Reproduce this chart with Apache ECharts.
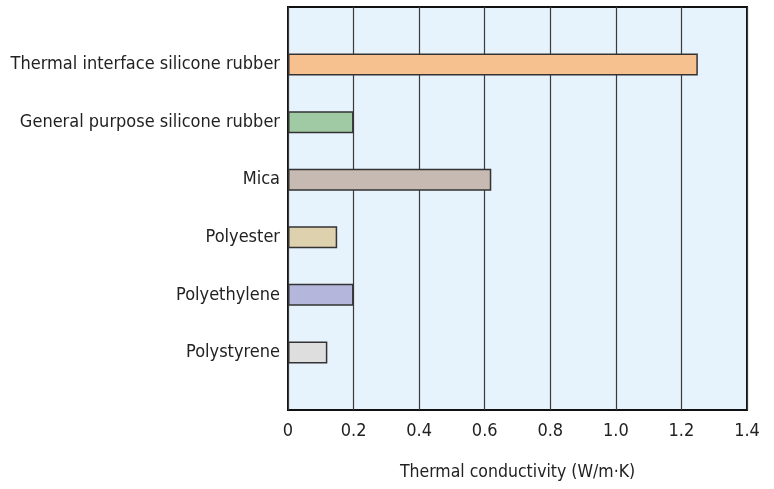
<!DOCTYPE html>
<html><head><meta charset="utf-8">
<script src="https://cdn.jsdelivr.net/npm/echarts@6/dist/echarts.min.js"></script>
<style>html,body{margin:0;padding:0;background:#fff}#c{width:774px;height:489px}</style>
</head><body><div id="c"></div>
<script>
const categories = ['Thermal interface silicone rubber','General purpose silicone rubber','Mica','Polyester','Polyethylene','Polystyrene'];
const values = [1.25, 0.2, 0.62, 0.15, 0.2, 0.12];
const colors = ['#F7C08F','#A0CAA4','#C7BAB3','#DDD1AE','#B4B6DB','#DEDEDE'];
const xTicks = [0, 0.2, 0.4, 0.6, 0.8, 1.0, 1.2, 1.4];
const xName = 'Thermal conductivity (W/m\u00B7K)';

const FONT = '"DejaVu Sans Condensed", "Liberation Sans", sans-serif';
const cats = [''].concat(categories, ['']);
const data = [null].concat(values.map((v,i)=>({value:v, itemStyle:{color:colors[i]}})), [null]);

const chart = echarts.init(document.getElementById('c'));
chart.setOption({
  animation:false,
  grid:{left:288,right:27,top:7,bottom:79,show:true,backgroundColor:'#E6F2FC',borderColor:'#111',borderWidth:2},
  xAxis:{type:'value',min:0,max:1.4,interval:0.2,
    name:xName,nameLocation:'middle',nameGap:53,
    nameTextStyle:{fontFamily:FONT,fontSize:17.5,color:'#222'},
    axisLine:{show:false},axisTick:{show:false},
    axisLabel:{fontFamily:FONT,fontSize:18,color:'#222',margin:12,
      formatter:v=>{const t=xTicks.find(x=>Math.abs(x-v)<1e-9);return t===0?'0':t.toFixed(1);}},
    splitLine:{show:true,lineStyle:{color:'#3a3a3a',width:1.2}}},
  yAxis:{type:'category',data:cats,inverse:true,boundaryGap:false,
    axisLine:{show:false},axisTick:{show:false},splitLine:{show:false},
    axisLabel:{fontFamily:FONT,fontSize:18,color:'#222',margin:8}},
  series:[{type:'bar',data:data,barWidth:22,
    itemStyle:{borderColor:'#333',borderWidth:1.5}}]
});
</script></body></html>
